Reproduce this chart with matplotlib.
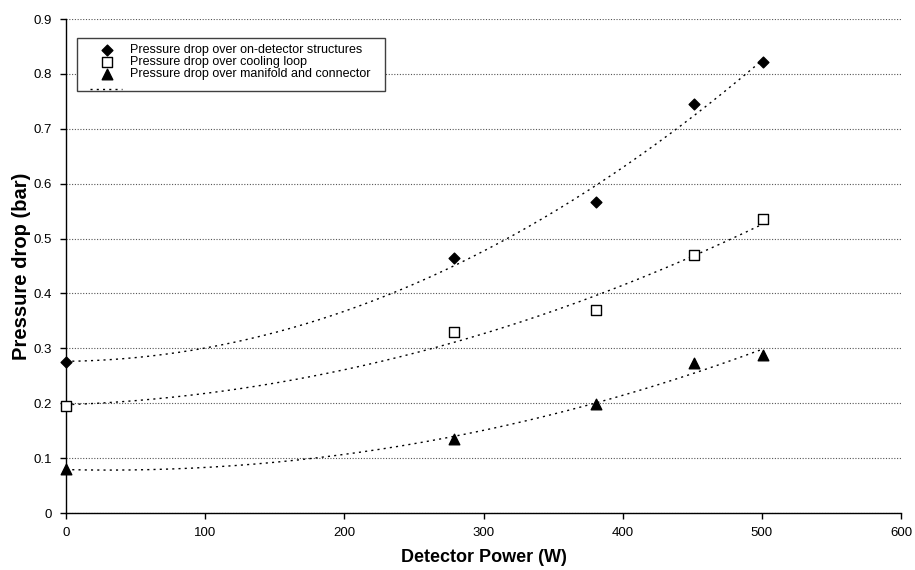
import numpy as np
import matplotlib
matplotlib.use("Agg")
import matplotlib.pyplot as plt
from matplotlib.lines import Line2D
from matplotlib.patches import Rectangle

plt.rcParams['font.family'] = ['Liberation Sans', 'DejaVu Sans']

power = [0, 279, 381, 451, 501]
dp_detector = [0.275, 0.465, 0.567, 0.745, 0.822]
dp_loop = [0.195, 0.330, 0.370, 0.470, 0.535]
dp_manifold = [0.080, 0.135, 0.198, 0.273, 0.287]
labels = ["Pressure drop over on-detector structures",
          "Pressure drop over cooling loop",
          "Pressure drop over manifold and connector"]

W, H = 915, 570
fig = plt.figure(figsize=(W / 100, H / 100), dpi=100)
ax = fig.add_axes([66 / W, 57 / H, 835 / W, 494 / H])

def ax_x(px):
    return (px - 66) / 835

def ax_y(py):
    return (513 - py) / 494

dotted = (0, (1.5, 3))
xs = np.linspace(0, max(power), 200)
for ys in (dp_detector, dp_loop, dp_manifold):
    c = np.polyfit(power, ys, 2)
    ax.plot(xs, np.polyval(c, xs), color='black', lw=1.0, ls=dotted, zorder=2)

h1 = ax.scatter(power, dp_detector, marker='D', s=30, color='black', zorder=3, clip_on=False)
h2 = ax.scatter(power, dp_loop, marker='s', s=48, facecolor='white', edgecolor='black', linewidth=1.0, zorder=3, clip_on=False)
h3 = ax.scatter(power, dp_manifold, marker='^', s=58, color='black', zorder=3, clip_on=False)

ax.set_xlim(0, 600)
ax.set_ylim(0, 0.9)
ax.set_xticks(np.arange(0, 601, 100))
ax.set_yticks(np.round(np.arange(0, 0.91, 0.1), 1))
ax.set_yticklabels(['0'] + [f"{v:.1f}" for v in np.arange(0.1, 0.91, 0.1)])
ax.yaxis.grid(True, color='#555555', ls=(0, (1, 1.5)), lw=0.8)
ax.set_axisbelow(True)
for s in ('top', 'right'):
    ax.spines[s].set_visible(False)
ax.spines['left'].set_linewidth(1.0)
ax.spines['bottom'].set_linewidth(1.0)
ax.tick_params(direction='out', length=4, width=1.0, labelsize=9.5, pad=6)
ax.set_xlabel('Detector Power (W)', fontsize=13, fontweight='bold', labelpad=7)
ax.set_ylabel('Pressure drop (bar)', fontsize=14.5, fontweight='bold', labelpad=2)

# legend box (Excel-style, asymmetric padding)
ax.add_patch(Rectangle((ax_x(77), ax_y(91)), 308 / 835, 53 / 494,
                       transform=ax.transAxes, facecolor='white', edgecolor='#404040',
                       lw=1.0, zorder=4, clip_on=False))
leg = ax.legend([h1, h2, h3], labels, loc='upper left',
                bbox_to_anchor=(ax_x(90), ax_y(44)), fontsize=9,
                frameon=False, labelspacing=0.0, borderpad=0, borderaxespad=0,
                handlelength=2.7, handletextpad=0.5)
leg.set_zorder(5)
ax.add_line(Line2D([ax_x(90), ax_x(122)], [ax_y(89), ax_y(89)], transform=ax.transAxes,
                   color='black', lw=1.0, ls=dotted, zorder=6, clip_on=False))

fig.savefig('out.png', dpi=100)
